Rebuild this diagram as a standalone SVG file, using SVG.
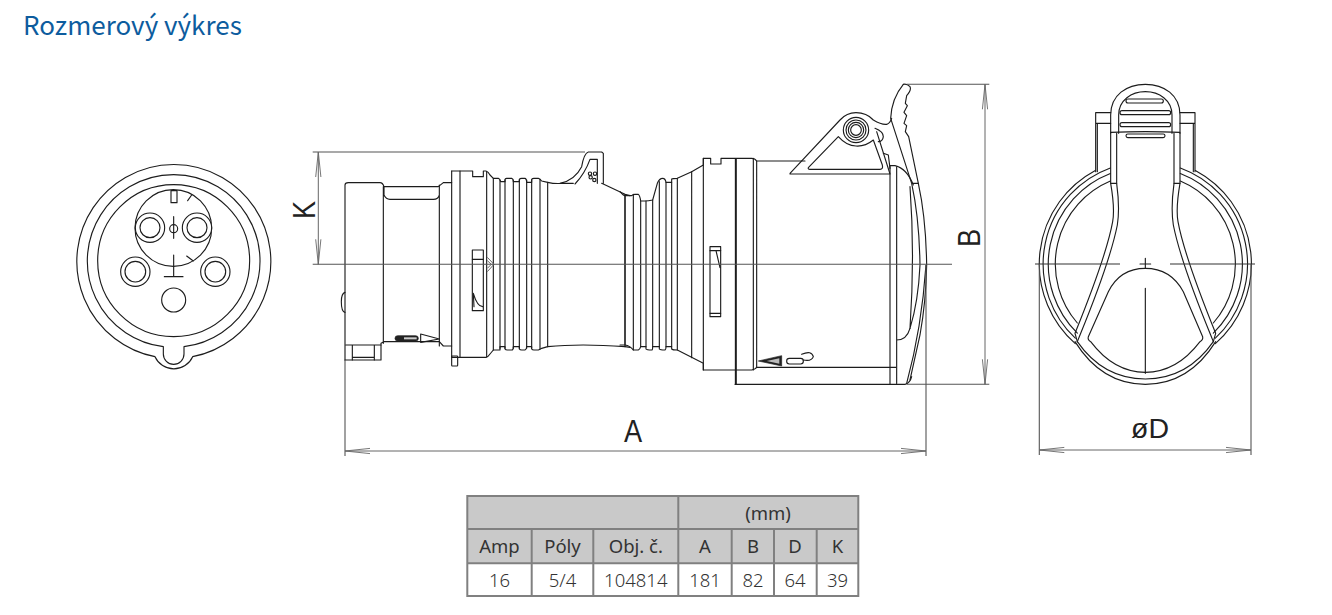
<svg xmlns="http://www.w3.org/2000/svg" width="1332" height="615" viewBox="0 0 1332 615">
<defs>
<marker id="a" markerUnits="userSpaceOnUse" markerWidth="30" markerHeight="8" viewBox="-28 -4 30 8" refX="0" refY="0" orient="auto-start-reverse"><path d="M-25,-2.6 L0,0 L-25,2.6" fill="none" stroke="#666" stroke-width=".9"/></marker>
<style>
.s{fill:none;stroke:#1c1c1c;stroke-width:3.4;stroke-linejoin:round;stroke-linecap:round}
.w{fill:#fff;stroke:#1c1c1c;stroke-width:3.4;stroke-linejoin:round}
.d{fill:#222;stroke:#222;stroke-width:2}
.t{stroke:#555;stroke-width:1.1;fill:none}
.dim{stroke:#666;stroke-width:1;fill:none}
.g{stroke:#808080;stroke-width:2;fill:none}
.lab{font-family:"Liberation Sans",Arial,sans-serif;fill:#222}
.tb{font-family:"Noto Sans",sans-serif;font-size:18.5px;fill:#333;text-anchor:middle}
.v{font-weight:300}
</style>
</defs>
<rect width="1332" height="615" fill="#fff"/>
<text id="title" x="23" y="35" font-family="Noto Sans CJK SC,Noto Sans,sans-serif" font-size="26" fill="#0d5c9e">Rozmerový výkres</text>

<g id="front-view" transform="translate(60 150) scale(.33333)">
<path class="s" d="M285,620 A291,291 0 1 1 398,620 A62,62 0 0 1 285,620Z"/>
<path class="s" d="M310,590 A259,259 0 1 1 372,590 V612 A31,31 0 0 1 310,612Z"/>
<circle class="s" cx="341" cy="332" r="228"/>
<circle class="s" cx="340" cy="234" r="115"/>
<circle class="w" cx="270" cy="233" r="44"/><circle class="s" cx="270" cy="233" r="30"/>
<circle class="w" cx="411" cy="233" r="44"/><circle class="s" cx="411" cy="233" r="30"/>
<circle class="s" cx="226" cy="365" r="44"/><circle class="s" cx="226" cy="365" r="31"/>
<circle class="s" cx="466" cy="365" r="44"/><circle class="s" cx="466" cy="365" r="31"/>
<circle class="s" cx="341" cy="450" r="36"/>
<rect class="s" x="333" y="122" width="18" height="36"/>
<path class="s" d="M383,152 L395,135 M341,200 V265 M380,318 L400,333 M341,315 V380 M313,380 H369"/>
<circle class="s" cx="341" cy="236" r="12"/>
</g>

<g id="side-view">
<g transform="translate(280 130) scale(.33333)">
<path class="s" d="M195,690 V165 Q195,158 205,158 H300 Q308,158 312,170 H475 L490,158 H515"/>
<path class="s" d="M312,170 V195 Q318,208 330,208 H460 Q475,208 478,195 V165 M310,170 V640 M478,165 V648"/>
<path class="s" d="M195,690 H303 V640 L312,635 H478 L490,648 H515"/>
<path class="s" d="M197,645 H303 M217,645 V690 M283,645 V690 M217,682 H283"/>
<path class="s" d="M195,487 Q184,490 184,515 Q184,545 195,547"/>
<path class="s" d="M515,123 H578 V140 H610 V123 H618 Q625,125 630,135 L640,145 H655 Q660,147 662,155 H675 V148 Q677,145 680,145 H695 Q700,147 700,155 H718 V148 Q720,145 725,145 H735 Q740,147 740,157 H755 V148 Q757,145 762,145 H775 Q780,147 785,153 L803,157 Q825,162 845,160 H880"/>
<path class="s" d="M965,160 L1035,193 L1050,197"/>
<path class="s" d="M515,123 V682 H618 Q625,680 630,672 L640,660 H660 V650 H675 V657 Q677,660 682,660 H695 Q700,660 700,650 H718 V657 Q720,660 725,660 H735 Q740,658 740,650 H755 V657 Q757,660 762,660 H775 Q780,658 785,655 L803,650 Q900,640 1035,650 L1050,652"/>
<path class="s" d="M540,123 V682 M620,125 V680 M640,145 V660 M660,150 V655 M675,150 V655 M700,150 V655 M718,150 V655 M740,150 V655 M755,150 V655 M780,148 V657 M803,157 V650 M1035,193 V650"/>
<rect class="s" x="515" y="678" width="18" height="30" rx="2"/>
<path class="s" d="M840,160 Q885,150 905,110 Q912,70 925,66 H965 L970,70 V160 M885,162 Q915,130 930,88 H952 V160"/>
<circle class="s" cx="930" cy="131" r="5"/><circle class="s" cx="945" cy="131" r="5"/><circle class="s" cx="932" cy="142" r="5"/><circle class="s" cx="943" cy="150" r="5"/>
<rect class="s" x="577" y="360" width="33" height="182"/>
<path class="s" d="M577,388 H610 M580,490 L582,530 M580,490 Q592,530 608,530"/>
<path d="M622,382 L642,403 L622,425 M622,392 L634,403 L622,415" fill="none" stroke="#666" stroke-width="3"/>
<rect class="d" x="345" y="617" width="70" height="16" rx="8"/>
<rect x="372" y="622" width="38" height="6" fill="#ccc"/>
<path class="s" d="M422,612 L478,627 L422,637Z"/>
</g>
<g transform="translate(620 75) scale(.33333)">
<path class="s" d="M0,350 Q10,362 15,362 H35 Q40,358 45,358 H55 Q60,362 62,378 H75 Q85,378 98,375 L112,325 Q118,310 128,310 Q136,310 138,322 H155 V312 Q158,310 172,310 L215,290 L250,270 V250 H272 V267 H303 V250 H395 Q405,250 410,258 H555"/>
<path class="s" d="M0,810 H15 Q30,812 40,825 H55 Q60,823 62,815 H78 V822 Q80,825 95,825 Q98,825 98,815 H118 V822 Q120,825 135,825 Q138,823 138,815 H155 V822 Q158,825 172,825 L250,865 V885 H395 Q407,883 410,877 H828"/>
<path class="s" d="M15,362 V810 M40,358 V825 M62,378 V815 M78,378 V815 M98,375 V815 M118,320 V815 M138,322 V815 M155,322 V815 M172,310 V825 M215,290 V848 M250,250 V885 M400,250 V885 M410,258 V877"/>
<path d="M347.500,250 V928" fill="none" stroke="#1c1c1c" stroke-width="6"/>
<rect class="s" x="270" y="515" width="32" height="210"/>
<path class="s" d="M270,527 H302 M270,715 H302 M288,527 L300,578"/>
<path class="s" d="M345,928 H855 Q870,925 875,905 M810,272 V928 M830,275 V925 M830,795 Q860,795 870,760 M810,272 H825 Q860,280 880,330"/>
<path class="s" d="M850,28 Q860,25 870,35 Q875,45 860,62 L856,85 L862,92 L852,112 L860,122 L852,145 L860,152 L856,170 L866,185 L895,325 Q918,430 920,570 Q918,680 900,780 L870,915"/>
<path class="s" d="M850,28 Q815,70 812,130 L875,325 Q898,430 900,570 Q895,680 870,760 M875,325 H895 M870,335 Q885,540 870,760 M918,570 Q905,760 860,925"/>
<path class="s" d="M510,295 L660,135 Q680,113 708,113 Q740,113 760,135 Q785,150 800,148 Q810,145 815,130 M510,297 H810 L770,170"/>
<path class="s" d="M565,278 Q563,283 570,283 H780 Q790,283 787,270 L760,195 Q735,215 708,213 Q680,213 655,185Z"/>
<path class="s" d="M765,160 Q790,170 790,185 Q788,200 775,200 M790,235 L805,240 L810,280"/>
<circle class="s" cx="708" cy="165" r="38"/><circle class="s" cx="708" cy="165" r="30"/><circle class="s" cx="708" cy="165" r="23"/><circle class="s" cx="708" cy="165" r="16"/>
<path class="d" d="M415,858 L485,842 V873Z"/>
<path d="M440,858 L478,850 V866Z" fill="#bbb"/>
<rect class="s" x="500" y="850" width="50" height="17" rx="8"/>
<path class="s" d="M545,838 Q575,825 580,845 Q575,860 550,855"/>
</g>
</g>

<g id="rear-view" transform="translate(1020 75) scale(.33333)">
<g id="rear-half">
<path class="s" d="M272,113 H227 V290 M232,145 V290 M227,145 H272"/>
<path class="s" d="M225.900,286.500 A318,318 0 0 0 165.900,805.800"/>
<path class="s" d="M271,279 A306,306 0 0 0 165.900,789.600"/>
<path class="s" d="M271,295.500 A291,291 0 0 0 172,774.600"/>
<path class="s" d="M271,318.300 A270,270 0 0 0 172,744"/>
<path class="s" d="M272,175 V325 Q285,400 278,440 Q260,540 165,775 L172,800"/>
<path class="s" d="M290,175 V325 Q300,400 292,450 Q270,560 180,780 L172,800"/>
<path class="s" d="M272,325 H290"/>
</g>
<use href="#rear-half" transform="translate(752 0) scale(-1 1)"/>
<path class="s" d="M272,175 V120 C272,60 320,28 376,28 C432,28 480,60 480,120 V175"/>
<path class="s" d="M296,175 V120 C296,75 335,50 376,50 C417,50 456,75 456,120 V175"/>
<path class="s" d="M272,172 Q376,168 480,172"/>
<rect class="s" x="318" y="72" width="112" height="12" rx="6"/>
<rect class="s" x="300" y="107" width="152" height="12" rx="6"/>
<rect class="s" x="300" y="143" width="152" height="12" rx="6"/>
<rect class="s" x="318" y="177" width="117" height="11" rx="5.500"/>
<path class="s" d="M205,785 L265,650 Q300,580 376,580 Q452,580 490,650 L548,785 Q550,795 540,800 Q470,892 376,892 Q282,892 212,800 Q202,795 205,785Z"/>
<path class="s" d="M172,800 Q250,912 376,912 Q502,912 580,800"/>
<path class="s" d="M165,800 Q245,928 376,928 Q507,928 587,800"/>
<path class="s" d="M376,550 V580 M360,567 H392 M376,640 V895"/>
<path d="M45,567 H300 M450,567 H705" fill="none" stroke="#333" stroke-width="3.500"/>
</g>

<g id="dimensions">
<path class="t" d="M312.700,152 H585 M312.700,264.300 H952"/>
<path class="t" d="M345,360 V456 M926,265 V456 M906.700,84.300 H989.300 M906.700,384.300 H989.300 M1039.300,264 V455 M1251,264 V455"/>
<path class="dim" d="M318.300,152 V264.300" marker-start="url(#a)" marker-end="url(#a)"/>
<path class="dim" d="M985,84.300 V384.300" marker-start="url(#a)" marker-end="url(#a)"/>
<path class="dim" d="M345,451 H926" marker-start="url(#a)" marker-end="url(#a)"/>
<path class="dim" d="M1039.300,450 H1251" marker-start="url(#a)" marker-end="url(#a)"/>
</g>
<text class="lab" transform="translate(315 219) rotate(-90) scale(.85 1)" font-size="32">K</text>
<text class="lab" transform="translate(980 247) rotate(-90) scale(.85 1)" font-size="32">B</text>
<text class="lab" transform="translate(624 442) scale(.85 1)" font-size="32">A</text>
<text class="lab" x="1131" y="438" font-size="28.500">øD</text>

<g id="table">
<rect x="467.300" y="496" width="391" height="67.300" fill="#c9c9c9"/>
<path class="g" d="M467.300,496 H858.300 V596 H467.300Z M467.300,529 H858.300 M467.300,563.300 H858.300 M531.700,529 V596 M593.300,529 V596 M678.300,496 V596 M731.700,529 V596 M774,529 V596 M816.700,529 V596"/>
<text class="tb" x="768" y="520">(mm)</text>
<text class="tb" x="499.500" y="553">Amp</text><text class="tb" x="562.500" y="553">Póly</text><text class="tb" x="635.800" y="553">Obj. č.</text><text class="tb" x="705" y="553">A</text><text class="tb" x="753" y="553">B</text><text class="tb" x="795" y="553">D</text><text class="tb" x="837.500" y="553">K</text>
<text class="tb v" x="499.500" y="587">16</text><text class="tb v" x="562.500" y="587">5/4</text><text class="tb v" x="635.800" y="587">104814</text><text class="tb v" x="705" y="587">181</text><text class="tb v" x="753" y="587">82</text><text class="tb v" x="795" y="587">64</text><text class="tb v" x="837.500" y="587">39</text>
</g>
</svg>
